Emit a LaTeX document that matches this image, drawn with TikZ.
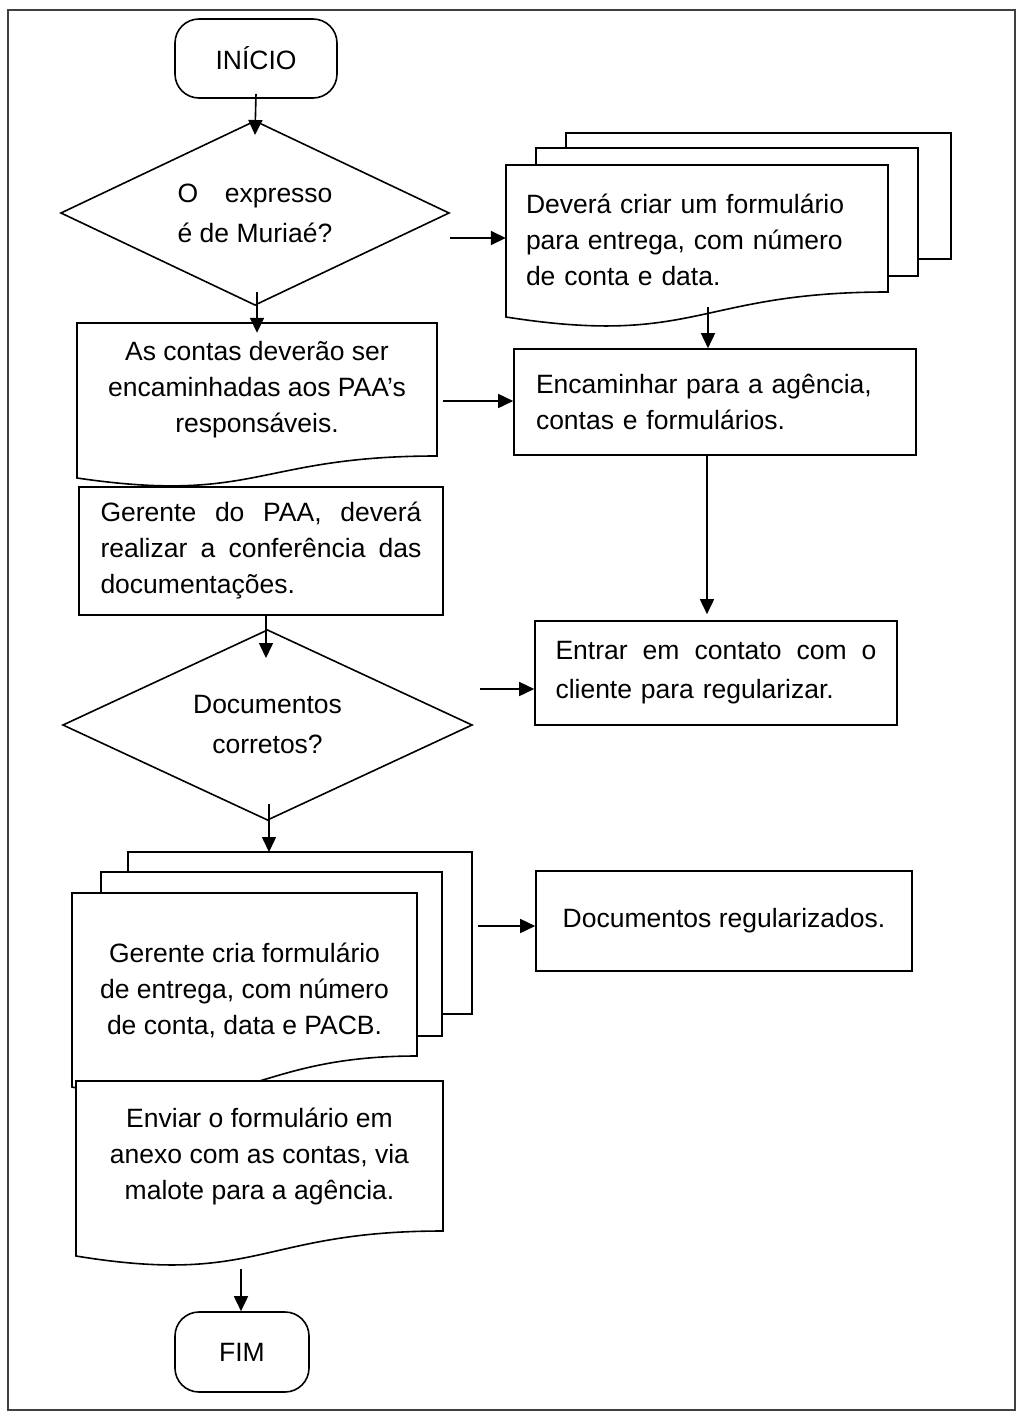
\documentclass[tikz,border=0pt]{standalone}
\usepackage{fontspec}
\setmainfont{Liberation Sans}
\usetikzlibrary{arrows.meta,shapes.geometric,calc}
% document shape: x0, top, x1, y at right bottom, y at left bottom
\newcommand{\docpath}[5]{%
  \draw[shp, fill=white] (#1,#2) -- (#3,#2) -- (#3,#4)
    .. controls ({(#1+#3)/2},#4) and ({(#1+#3)/2},{#4+2.2*(#5-#4)}) .. (#1,#5) -- cycle;}
\begin{document}
\begin{tikzpicture}[x=1pt,y=-1pt,
  shp/.style={draw=black, line width=1.6pt},
  arr/.style={line width=1.6pt, -{Triangle[length=15pt,width=14pt]}},
  txt/.style={font=\fontsize{26.5}{36}\selectfont, inner sep=0pt},
  procbox/.style={shp, fill=white, rectangle, txt},
  termbox/.style={shp, rectangle, rounded corners=24pt, txt},
  decbox/.style={shp, diamond, txt, align=center, font=\fontsize{26.5}{40}\selectfont, inner sep=0pt, outer sep=0pt},
  pagebox/.style={shp, fill=white, rectangle, inner sep=0pt, outer sep=0pt}]
\useasboundingbox (0,0) rectangle (1022,1418);
\draw[line width=1.2pt, draw=black!75] (8,10) rectangle (1015,1410);

% left column
\node[termbox, minimum width=162pt, minimum height=79pt] (start) at (256,58.5) {INÍCIO};
\node[decbox, aspect=2.11, minimum width=388pt, minimum height=184pt] (d1) at (255,213) {\makebox[155pt][s]{O\hfill expresso}\\é de Muriaé?};

\docpath{77}{323}{437}{456}{478}
\node[txt, minimum width=360pt, minimum height=133pt, align=center] (contas) at (257,389.5) {As contas deverão ser\\encaminhadas aos PAA’s\\responsáveis.};

\node[procbox, minimum width=364pt, minimum height=128pt, text width=321pt, align=left] (ger) at (261,551) {\makebox[321pt][s]{Gerente\hfill do\hfill PAA,\hfill deverá}\\\makebox[321pt][s]{realizar\hfill a\hfill conferência\hfill das}\\documentações.};

\node[decbox, aspect=2.15, minimum width=409pt, minimum height=190pt] (d2) at (267.5,725) {Documentos\\corretos?};

\node[pagebox, minimum width=344pt, minimum height=162pt] (doc2c) at (300,933) {};
\node[pagebox, minimum width=341pt, minimum height=164pt] (doc2b) at (271.5,954) {};
\docpath{72}{893}{417}{1056}{1087}
\node[txt, minimum width=345pt, align=center] (doc2) at (244.5,990) {Gerente cria formulário\\de entrega, com número\\de conta, data e PACB.};

\docpath{76}{1081}{443}{1231}{1256}
\node[txt, minimum width=367pt, align=center] (env) at (259.5,1156) {Enviar o formulário em\\anexo com as contas, via\\malote para a agência.};

\node[termbox, minimum width=134pt, minimum height=80pt] (fim) at (242,1352) {FIM};

% right column
\node[pagebox, minimum width=385pt, minimum height=126pt] (doc1c) at (758.5,196) {};
\node[pagebox, minimum width=382pt, minimum height=128pt] (doc1b) at (727,212) {};
\docpath{506}{165}{888}{292}{317}
\node[txt, minimum width=382pt, text width=342pt, align=left] (doc1) at (697,240) {Deverá criar um formulário\\para entrega, com número\\de conta e data.};

\node[procbox, minimum width=402pt, minimum height=106pt, text width=358pt, align=left] (enc) at (715,402) {Encaminhar para a agência,\\contas e formulários.};
\node[procbox, minimum width=362pt, minimum height=104pt, text width=321pt, align=left, font=\fontsize{26.5}{39}\selectfont] (ent) at (716,673) {\makebox[321pt][s]{Entrar\hfill em\hfill contato\hfill com\hfill o}\\cliente para regularizar.};
\node[procbox, minimum width=376pt, minimum height=100pt] (reg) at (724,921) {Documentos regularizados.};

% connectors
\coordinate (p1) at (450,238);
\coordinate (p2) at (708,307);
\coordinate (p3) at (443,401);
\coordinate (p4) at (257,292);
\coordinate (p5) at (707,455);
\coordinate (p6) at (480,689);
\coordinate (p7) at (266,615);
\coordinate (p8) at (269,804);
\coordinate (p9) at (478,926);
\coordinate (p10) at (241,1269);

\draw[arr] ([yshift=5pt]start.south) -- ([yshift=-14pt]d1.north);
\draw[arr] (p1) -- (p1 -| doc1.west);
\draw[arr] (p2) -- (p2 |- enc.north);
\draw[arr] (p4) -- ($(p4 |- contas.north)+(0,10)$);
\draw[arr] (p3) -- (p3 -| enc.west);
\draw[arr] (p5) -- ($(p5 |- ent.north)+(0,-6)$);
\draw[arr] (p6) -- (p6 -| ent.west);
\draw[arr] (p7) -- ($(p7 |- d2.north)+(0,28)$);
\draw[arr] (p8) -- (p8 |- doc2c.north);
\draw[arr] (p9) -- (p9 -| reg.west);
\draw[arr] (p10) -- (p10 |- fim.north);
\end{tikzpicture}
\end{document}
